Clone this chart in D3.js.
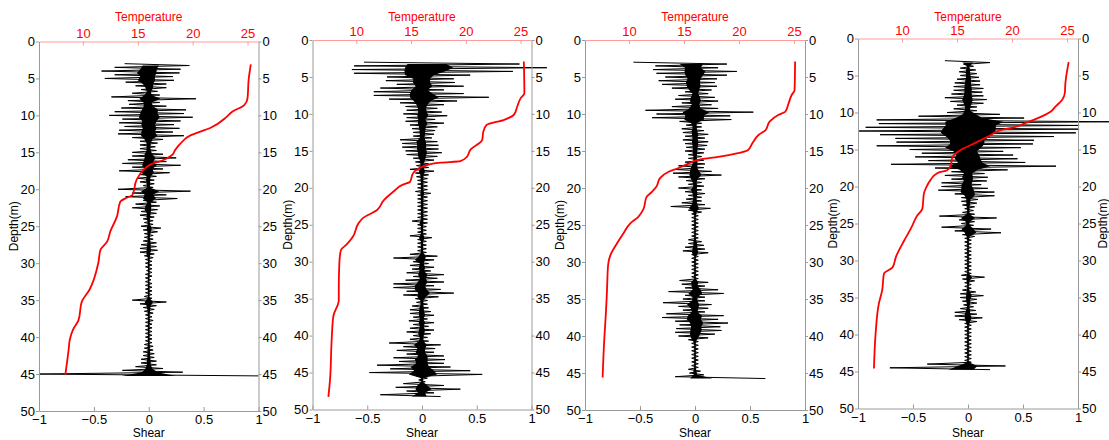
<!DOCTYPE html>
<html>
<head>
<meta charset="utf-8">
<script src="https://cdn.jsdelivr.net/npm/d3@7/dist/d3.min.js"></script>
<style>
body { margin: 0; background: #fff; }
svg { font-family: "Liberation Sans", Arial, sans-serif; }
</style>
</head>
<body>
<svg id="chart" width="1109" height="440"></svg>
<script>
// tick values
var depthTicks = [0, 5, 10, 15, 20, 25, 30, 35, 40, 45, 50];
var shearTicks = [-1, -0.5, 0, 0.5, 1];
var tempTicks = [10, 15, 20, 25];

// temperature profiles: [depth, temperature]
var temp1 = [[3.1,25.3],[5.2,25.1],[7.7,25.0],[8.6,24.7],[9.5,23.6],[10.2,23.1],[11.7,21.6],[12.2,20.7],[12.7,19.8],[13.8,18.9],[14.7,18.4],[15.4,18.1],[16.0,17.4],[16.7,16.1],[17.4,15.5],[18.7,14.9],[20.8,14.5],[21.2,13.9],[21.7,13.4],[23.7,13.1],[25.7,12.5],[27.1,12.2],[28.2,11.6],[30.0,11.4],[33.6,10.6],[35.2,9.9],[37.7,9.6],[39.0,9.1],[40.4,8.8],[41.7,8.7],[45.1,8.4]];
var temp2 = [[2.9,25.3],[7.2,25.35],[7.9,25.0],[9.0,24.7],[10.1,24.4],[10.8,23.5],[11.5,21.9],[12.4,21.6],[13.5,21.5],[14.9,20.4],[15.8,20.1],[16.4,19.5],[16.6,17.7],[17.1,16.1],[18.0,15.2],[19.2,14.9],[19.6,14.2],[20.5,13.4],[21.7,12.5],[23.0,11.9],[24.1,10.6],[24.8,10.2],[26.6,9.7],[27.7,9.1],[28.4,8.6],[30.2,8.45],[33.8,8.4],[35.2,8.4],[37.4,7.9],[40.6,7.75],[46.0,7.6],[48.3,7.45]];
var temp3 = [[2.9,25.1],[6.8,25.05],[7.4,24.8],[8.6,24.5],[9.7,24.2],[10.1,23.6],[11.0,22.8],[12.2,22.4],[12.8,21.8],[14.0,21.2],[14.9,20.8],[15.3,19.9],[15.8,18.1],[16.1,16.6],[16.7,15.4],[17.3,14.5],[17.8,13.6],[18.7,12.8],[19.8,12.5],[20.5,12.1],[21.2,11.6],[22.9,11.3],[23.9,10.85],[24.8,10.1],[26.1,9.5],[27.5,8.9],[29.1,8.3],[30.4,8.1],[33.8,8.0],[36.9,7.9],[40.5,7.75],[45.6,7.6]];
var temp4 = [[3.2,25.15],[6.1,24.85],[7.4,24.8],[8.3,24.55],[9.2,23.95],[9.9,23.5],[10.8,22.3],[11.5,21.1],[12.0,20.2],[12.4,18.9],[13.1,18.0],[14.0,16.8],[15.1,15.3],[16.0,14.6],[17.3,14.4],[17.8,14.1],[18.2,13.2],[19.1,12.6],[20.3,12.15],[20.9,12.0],[23.0,11.85],[23.9,11.4],[25.7,10.8],[27.3,10.2],[29.5,9.45],[30.9,9.15],[31.8,8.35],[34.0,8.2],[35.8,7.9],[39.9,7.6],[44.6,7.45]];

// shear envelopes per half metre: [depth, min, max]
var shear1 = [[3.0,-0.22,0.37],[3.5,-0.31,0.29],[4.0,-0.43,0.28],[4.5,-0.31,0.22],[5.0,-0.40,0.23],[5.5,-0.21,0.16],[6.0,-0.12,0.16],[6.5,-0.07,0.08],[7.0,-0.15,0.10],[7.5,-0.34,0.43],[8.0,-0.19,0.10],[8.5,-0.18,0.16],[9.0,-0.25,0.34],[9.5,-0.31,0.32],[10.0,-0.36,0.40],[10.5,-0.24,0.29],[11.0,-0.27,0.23],[11.5,-0.22,0.28],[12.0,-0.27,0.22],[12.5,-0.28,0.32],[13.0,-0.15,0.13],[13.5,-0.08,0.08],[14.0,-0.08,0.06],[14.5,-0.08,0.07],[15.0,-0.15,0.13],[15.5,-0.15,0.25],[16.0,-0.19,0.16],[16.5,-0.24,0.29],[17.0,-0.15,0.13],[17.5,-0.27,0.19],[18.0,-0.08,0.07],[18.5,-0.10,0.05],[19.0,-0.08,0.05],[19.5,-0.05,0.04],[20.0,-0.28,0.38],[20.5,-0.15,0.16],[21.0,-0.21,0.26],[21.5,-0.05,0.07],[22.0,-0.12,0.10],[22.5,-0.15,0.08],[23.0,-0.07,0.07],[23.5,-0.08,0.05],[24.0,-0.05,0.04],[24.5,-0.04,0.04],[25.0,-0.07,0.11],[25.5,-0.05,0.08],[26.0,-0.04,0.04],[26.5,-0.04,0.04],[27.0,-0.05,0.07],[27.5,-0.07,0.07],[28.0,-0.08,0.08],[28.5,-0.08,0.05],[29.0,-0.04,0.04],[29.5,-0.03,0.03],[30.0,-0.03,0.03],[30.5,-0.03,0.03],[31.0,-0.02,0.03],[31.5,-0.03,0.03],[32.0,-0.03,0.02],[32.5,-0.03,0.03],[33.0,-0.03,0.03],[33.5,-0.03,0.03],[34.0,-0.03,0.03],[34.5,-0.04,0.03],[35.0,-0.15,0.16],[35.5,-0.08,0.07],[36.0,-0.05,0.05],[36.5,-0.04,0.04],[37.0,-0.03,0.03],[37.5,-0.03,0.04],[38.0,-0.03,0.03],[38.5,-0.03,0.03],[39.0,-0.03,0.03],[39.5,-0.03,0.03],[40.0,-0.03,0.03],[40.5,-0.03,0.03],[41.0,-0.04,0.04],[41.5,-0.04,0.04],[42.0,-0.05,0.05],[42.5,-0.05,0.05],[43.0,-0.07,0.07],[43.5,-0.07,0.07],[44.0,-0.12,0.13],[44.5,-0.24,0.31],[45.0,-1.0,1.0]];
var shear2 = [[3.0,-0.53,0.89],[3.5,-0.62,1.14],[4.0,-0.64,0.83],[4.5,-0.62,0.44],[5.0,-0.32,0.29],[5.5,-0.33,0.30],[6.0,-0.23,0.38],[6.5,-0.38,0.20],[7.0,-0.44,0.38],[7.5,-0.44,0.61],[8.0,-0.30,0.32],[8.5,-0.20,0.20],[9.0,-0.15,0.14],[9.5,-0.14,0.18],[10.0,-0.17,0.23],[10.5,-0.14,0.12],[11.0,-0.15,0.20],[11.5,-0.11,0.14],[12.0,-0.09,0.12],[12.5,-0.08,0.11],[13.0,-0.08,0.09],[13.5,-0.20,0.14],[14.0,-0.18,0.15],[14.5,-0.18,0.15],[15.0,-0.15,0.18],[15.5,-0.14,0.14],[16.0,-0.08,0.11],[16.5,-0.06,0.06],[17.0,-0.05,0.06],[17.5,-0.11,0.11],[18.0,-0.06,0.06],[18.5,-0.05,0.05],[19.0,-0.04,0.05],[19.5,-0.04,0.05],[20.0,-0.04,0.05],[20.5,-0.06,0.08],[21.0,-0.04,0.05],[21.5,-0.04,0.05],[22.0,-0.04,0.05],[22.5,-0.04,0.05],[23.0,-0.04,0.05],[23.5,-0.04,0.05],[24.0,-0.04,0.05],[24.5,-0.09,0.05],[25.0,-0.04,0.04],[25.5,-0.04,0.04],[26.0,-0.04,0.04],[26.5,-0.11,0.09],[27.0,-0.04,0.04],[27.5,-0.04,0.04],[28.0,-0.04,0.04],[28.5,-0.04,0.04],[29.0,-0.11,0.14],[29.5,-0.26,0.11],[30.0,-0.08,0.06],[30.5,-0.11,0.11],[31.0,-0.09,0.08],[31.5,-0.14,0.20],[32.0,-0.08,0.14],[32.5,-0.15,0.20],[33.0,-0.26,0.11],[33.5,-0.26,0.17],[34.0,-0.14,0.29],[34.5,-0.17,0.15],[35.0,-0.06,0.05],[35.5,-0.05,0.05],[36.0,-0.09,0.06],[36.5,-0.11,0.08],[37.0,-0.11,0.11],[37.5,-0.08,0.05],[38.0,-0.12,0.11],[38.5,-0.08,0.06],[39.0,-0.11,0.11],[39.5,-0.14,0.08],[40.0,-0.08,0.05],[40.5,-0.11,0.06],[41.0,-0.30,0.17],[41.5,-0.17,0.12],[42.0,-0.23,0.11],[42.5,-0.14,0.20],[43.0,-0.26,0.21],[43.5,-0.21,0.20],[44.0,-0.41,0.26],[44.5,-0.29,0.44],[45.0,-0.48,0.55],[45.5,-0.05,0.05],[46.0,-0.03,0.03],[46.5,-0.17,0.20],[47.0,-0.24,0.35],[47.5,-0.14,0.11],[48.0,-0.38,0.17]];
var shear3 = [[3.0,-0.56,0.29],[3.5,-0.36,0.21],[4.0,-0.38,0.38],[4.5,-0.35,0.29],[5.0,-0.27,0.20],[5.5,-0.33,0.18],[6.0,-0.30,0.20],[6.5,-0.21,0.15],[7.0,-0.09,0.12],[7.5,-0.15,0.18],[8.0,-0.18,0.21],[8.5,-0.12,0.15],[9.0,-0.21,0.21],[9.5,-0.45,0.53],[10.0,-0.35,0.32],[10.5,-0.39,0.33],[11.0,-0.14,0.06],[11.5,-0.08,0.06],[12.0,-0.12,0.08],[12.5,-0.11,0.12],[13.0,-0.09,0.09],[13.5,-0.11,0.12],[14.0,-0.09,0.11],[14.5,-0.08,0.09],[15.0,-0.09,0.08],[15.5,-0.06,0.06],[16.0,-0.06,0.08],[16.5,-0.09,0.09],[17.0,-0.15,0.08],[17.5,-0.18,0.15],[18.0,-0.20,0.24],[18.5,-0.15,0.09],[19.0,-0.08,0.06],[19.5,-0.06,0.08],[20.0,-0.15,0.06],[20.5,-0.09,0.09],[21.0,-0.06,0.06],[21.5,-0.08,0.06],[22.0,-0.12,0.09],[22.5,-0.22,0.14],[23.0,-0.06,0.06],[23.5,-0.03,0.03],[24.0,-0.03,0.03],[24.5,-0.03,0.03],[25.0,-0.03,0.03],[25.5,-0.03,0.03],[26.0,-0.03,0.03],[26.5,-0.03,0.03],[27.0,-0.06,0.06],[27.5,-0.06,0.08],[28.0,-0.09,0.09],[28.5,-0.11,0.12],[29.0,-0.03,0.03],[29.5,-0.03,0.03],[30.0,-0.03,0.03],[30.5,-0.03,0.03],[31.0,-0.03,0.03],[31.5,-0.03,0.03],[32.0,-0.03,0.03],[32.5,-0.14,0.12],[33.0,-0.12,0.09],[33.5,-0.09,0.21],[34.0,-0.24,0.26],[34.5,-0.09,0.09],[35.0,-0.11,0.09],[35.5,-0.29,0.15],[36.0,-0.15,0.12],[36.5,-0.11,0.09],[37.0,-0.26,0.26],[37.5,-0.30,0.21],[38.0,-0.18,0.30],[38.5,-0.14,0.23],[39.0,-0.17,0.24],[39.5,-0.18,0.18],[40.0,-0.15,0.12],[40.5,-0.06,0.03],[41.0,-0.03,0.03],[41.5,-0.03,0.03],[42.0,-0.03,0.03],[42.5,-0.03,0.03],[43.0,-0.03,0.03],[43.5,-0.03,0.03],[44.0,-0.03,0.03],[44.5,-0.06,0.05],[45.0,-0.05,0.08],[45.5,-0.18,0.64]];
var shear4 = [[3.0,-0.21,0.20],[3.5,-0.04,0.05],[4.0,-0.07,0.07],[4.5,-0.08,0.08],[5.0,-0.07,0.10],[5.5,-0.10,0.11],[6.0,-0.12,0.11],[6.5,-0.13,0.14],[7.0,-0.13,0.13],[7.5,-0.15,0.14],[8.0,-0.21,0.17],[8.5,-0.16,0.14],[9.0,-0.10,0.08],[9.5,-0.13,0.08],[10.0,-0.19,0.29],[10.5,-0.45,0.51],[11.0,-0.83,1.29],[11.5,-0.81,1.01],[12.0,-0.93,1.01],[12.5,-0.99,0.98],[13.0,-0.80,0.78],[13.5,-0.66,0.60],[14.0,-0.65,0.59],[14.5,-0.83,0.48],[15.0,-0.53,0.32],[15.5,-0.42,0.41],[16.0,-0.48,0.45],[16.5,-0.36,0.52],[17.0,-0.70,0.80],[17.5,-0.30,0.36],[18.0,-0.15,0.15],[18.5,-0.21,0.18],[19.0,-0.15,0.17],[19.5,-0.24,0.12],[20.0,-0.24,0.18],[20.5,-0.27,0.24],[21.0,-0.12,0.24],[21.5,-0.06,0.09],[22.0,-0.06,0.08],[22.5,-0.05,0.06],[23.0,-0.03,0.05],[23.5,-0.05,0.06],[24.0,-0.26,0.26],[24.5,-0.08,0.06],[25.0,-0.06,0.05],[25.5,-0.24,0.21],[26.0,-0.12,0.30],[26.5,-0.05,0.06],[27.0,-0.03,0.03],[27.5,-0.03,0.03],[28.0,-0.03,0.03],[28.5,-0.03,0.03],[29.0,-0.03,0.03],[29.5,-0.03,0.03],[30.0,-0.03,0.03],[30.5,-0.03,0.03],[31.0,-0.03,0.03],[31.5,-0.03,0.03],[32.0,-0.06,0.15],[32.5,-0.05,0.06],[33.0,-0.03,0.03],[33.5,-0.03,0.03],[34.0,-0.05,0.07],[34.5,-0.07,0.14],[35.0,-0.07,0.08],[35.5,-0.05,0.08],[36.0,-0.04,0.05],[36.5,-0.07,0.07],[37.0,-0.12,0.08],[37.5,-0.12,0.13],[38.0,-0.08,0.08],[38.5,-0.03,0.03],[39.0,-0.03,0.03],[39.5,-0.03,0.03],[40.0,-0.03,0.03],[40.5,-0.03,0.03],[41.0,-0.03,0.03],[41.5,-0.03,0.03],[42.0,-0.03,0.03],[42.5,-0.03,0.03],[43.0,-0.03,0.03],[43.5,-0.03,0.03],[44.0,-0.37,0.34],[44.5,-0.71,0.20]];

var svg = d3.select("#chart");

var boxes = [
  {left: 39,  right: 258.5, top: 41.5, bottom: 411},
  {left: 312.5, right: 531.5, top: 40, bottom: 409.5},
  {left: 585, right: 805, top: 40, bottom: 410},
  {left: 858, right: 1078, top: 38.5, bottom: 408.5}
];

var greyAxis = "#9a9a9a";
var pinkAxis = "#ff9c9c";
var coreShare = 0.25;   // dense part of the trace around zero

function styleAxis(g, lineColor, textColor) {
  g.select(".domain").attr("stroke", lineColor);
  g.selectAll(".tick line").attr("stroke", lineColor);
  g.selectAll(".tick text").attr("fill", textColor).attr("font-size", "13px");
  g.attr("font-family", null);
}

function drawPanel(temp, shear, box, rightLabel) {
  var x = d3.scaleLinear().domain([-1, 1]).range([box.left, box.right]);
  var t = d3.scaleLinear().domain([6, 26]).range([box.left, box.right]);
  var y = d3.scaleLinear().domain([0, 50]).range([box.top, box.bottom]);

  // dense core of the shear trace
  var core = d3.area()
    .y(function(r) { return y(r[0] + 0.25); })
    .x0(function(r) { return x(r[1] * coreShare); })
    .x1(function(r) { return x(r[2] * coreShare); });
  svg.append("path")
    .attr("d", core(shear))
    .attr("fill", "#000");

  // spikes: zig-zag between the min and max of each half metre
  var pts = [];
  shear.forEach(function(r) {
    pts.push([x(r[1]), y(r[0])]);
    pts.push([x(r[2]), y(r[0] + 0.25)]);
  });
  svg.append("path")
    .attr("d", d3.line()(pts))
    .attr("fill", "none")
    .attr("stroke", "#000")
    .attr("stroke-width", 1);

  var tline = d3.line()
    .x(function(d) { return t(d[1]); })
    .y(function(d) { return y(d[0]); })
    .curve(d3.curveMonotoneY);
  svg.append("path")
    .attr("d", tline(temp))
    .attr("fill", "none")
    .attr("stroke", "#ff0000")
    .attr("stroke-width", 1.8);

  var gl = svg.append("g")
    .attr("transform", "translate(" + box.left + ",0)")
    .call(d3.axisLeft(y).tickValues(depthTicks).tickSizeInner(3).tickSizeOuter(0).tickPadding(1));
  styleAxis(gl, greyAxis, "#000");

  var gr = svg.append("g")
    .attr("transform", "translate(" + box.right + ",0)")
    .call(d3.axisRight(y).tickValues(depthTicks).tickSizeInner(3).tickSizeOuter(0).tickPadding(1));
  styleAxis(gr, greyAxis, "#000");

  var gb = svg.append("g")
    .attr("transform", "translate(0," + box.bottom + ")")
    .call(d3.axisBottom(x).tickValues(shearTicks).tickSizeInner(-4).tickSizeOuter(0).tickPadding(4).tickFormat(d3.format("")));
  styleAxis(gb, greyAxis, "#000");

  var gt = svg.append("g")
    .attr("transform", "translate(0," + box.top + ")")
    .call(d3.axisTop(t).tickValues(tempTicks).tickSizeInner(-4).tickSizeOuter(0).tickPadding(4));
  styleAxis(gt, pinkAxis, "#ff0000");

  var mid = (box.left + box.right) / 2;
  svg.append("text")
    .attr("x", mid).attr("y", 21)
    .attr("text-anchor", "middle")
    .attr("font-size", "12px")
    .attr("fill", "#ff0000")
    .text("Temperature");

  svg.append("text")
    .attr("x", mid).attr("y", 437)
    .attr("text-anchor", "middle")
    .attr("font-size", "12px")
    .attr("fill", "#000")
    .text("Shear");

  var ymid = (box.top + box.bottom) / 2;
  svg.append("text")
    .attr("transform", "translate(" + (box.left - 21) + "," + ymid + ") rotate(-90)")
    .attr("text-anchor", "middle")
    .attr("font-size", "12px")
    .text("Depth(m)");

  if (rightLabel) {
    svg.append("text")
      .attr("transform", "translate(" + (box.right + 29) + "," + ymid + ") rotate(-90)")
      .attr("text-anchor", "middle")
      .attr("font-size", "12px")
      .text("Depth(m)");
  }
}

drawPanel(temp1, shear1, boxes[0], false);
drawPanel(temp2, shear2, boxes[1], false);
drawPanel(temp3, shear3, boxes[2], false);
drawPanel(temp4, shear4, boxes[3], true);
</script>
</body>
</html>
